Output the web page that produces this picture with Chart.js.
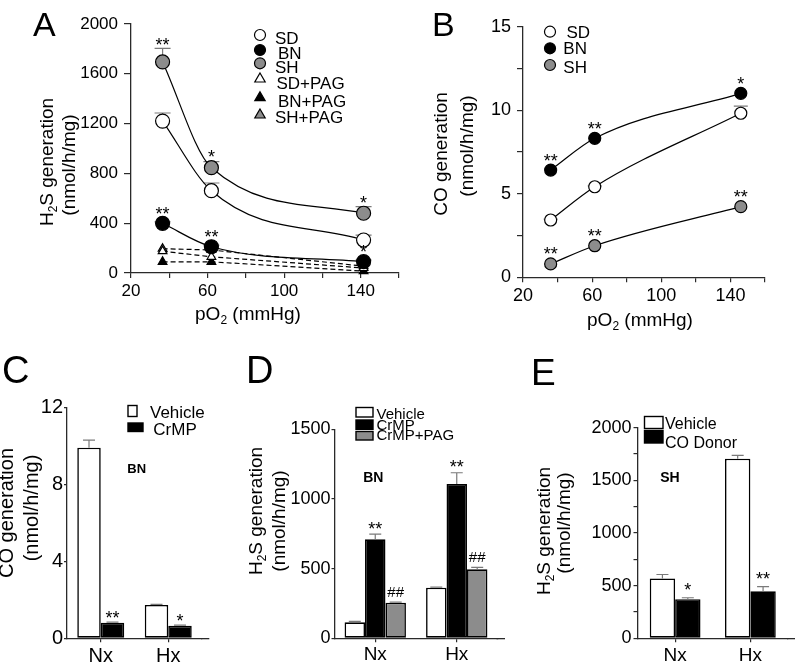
<!DOCTYPE html>
<html><head><meta charset="utf-8">
<script src="https://cdn.jsdelivr.net/npm/chart.js@4.4.1/dist/chart.umd.min.js"></script>
<style>
html,body{margin:0;padding:0;background:#fff;}
#wrap{position:relative;width:796px;height:669px;overflow:hidden;background:#fff;}
canvas{position:absolute;left:0;top:0;}
</style></head><body><div id="wrap"></div>
<script>
const FONT = '"Liberation Sans", Arial, Helvetica, sans-serif';
const AX = '#2a2a2a';
const ERR = '#7a7a7a';
const GRAY = '#8c8c8c';

// ---------- Panel A : H2S generation vs pO2 ----------
const seriesA = ['SD', 'BN', 'SH', 'SD+PAG', 'BN+PAG', 'SH+PAG'];
const pO2A = [36.5, 62, 141.5];
const h2sSD = [1220, 661, 265];
const h2sSDErr = [65, 62, 40];
const h2sBN = [399, 211, 91];
const h2sBNErr = [12, 12, 12];
const h2sSH = [1695, 846, 480];
const h2sSHErr = [110, 48, 53];
const h2sSDPAG = [175, 130, 40];
const h2sBNPAG = [90, 90, 15];
const h2sSHPAG = [195, 185, 55];
const sigA_SH = ['**', '*', '*'];
const sigA_BN = ['**', '**', '*'];
const xTicksA = [20, 60, 100, 140];
const yTicksA = [0, 400, 800, 1200, 1600, 2000];

// ---------- Panel B : CO generation vs pO2 ----------
const seriesB = ['SD', 'BN', 'SH'];
const pO2B = [36, 61.5, 146];
const coSD = [3.43, 5.42, 9.82];
const coSDErr = [0.05, 0.05, 0.43];
const coBN = [6.42, 8.32, 11.01];
const coBNErr = [0.05, 0.05, 0.05];
const coSH = [0.8, 1.89, 4.23];
const coSHErr = [0.05, 0.05, 0.05];
const sigB_BN = ['**', '**', '*'];
const sigB_SH = ['**', '**', '**'];
const xTicksB = [20, 60, 100, 140];
const yTicksB = [0, 5, 10, 15];

// ---------- Bar panels ----------
const groups = ['Nx', 'Hx'];
// C
const coVehicleC = [9.9, 1.73];
const coVehicleCErr = [0.4, 0.03];
const coCrMPC = [0.81, 0.65];
const coCrMPCErr = [0.03, 0.03];
const sigC_CrMP = ['**', '*'];
const yTicksC = [0, 4, 8, 12];
// D
const h2sVehicleD = [115, 363];
const h2sVehicleDErr = [6, 4];
const h2sCrMPD = [710, 1107];
const h2sCrMPDErr = [38, 81];
const h2sPAGD = [255, 495];
const h2sPAGDErr = [4, 14];
const sigD_CrMP = ['**', '**'];
const sigD_PAG = ['##', '##'];
const yTicksD = [0, 500, 1000, 1500];
// E
const h2sVehicleE = [568, 1705];
const h2sVehicleEErr = [38, 32];
const h2sCOE = [371, 446];
const h2sCOEErr = [14, 44];
const sigE_CO = ['*', '**'];
const yTicksE = [0, 500, 1000, 1500, 2000];

Chart.defaults.font.family = FONT;
const wrap = document.getElementById('wrap');
function mk() {
  const c = document.createElement('canvas');
  c.width = 796; c.height = 669; c.style.width = '796px'; c.style.height = '669px';
  wrap.appendChild(c); return c.getContext('2d');
}
function baseOptions(area, yW, xH, scales, extra) {
  return Object.assign({
    responsive: false, animation: false, devicePixelRatio: 1, events: [],
    layout: { padding: { left: area.l - yW, top: area.t, right: 796 - area.r, bottom: 669 - area.b - xH } },
    plugins: { legend: { display: false }, tooltip: { enabled: false } },
    scales
  }, extra || {});
}
function axisCommon(tl) {
  return {
    border: { display: true, color: AX, width: 1.3 },
    grid: { display: true, drawOnChartArea: false, drawTicks: true, tickLength: tl, color: AX, lineWidth: 1.2 }
  };
}
function linAxis(o) {
  return Object.assign(axisCommon(o.tl), {
    type: 'linear', position: o.pos, min: o.min, max: o.max,
    afterFit: s => { if (o.pos === 'left') s.width = o.size; else s.height = o.size; },
    ticks: { stepSize: o.step, autoSkip: false, maxRotation: 0, padding: o.pad, color: '#000',
      font: { family: FONT, size: o.fs },
      callback: v => o.labels.some(l => Math.abs(l - v) < 1e-6) ? String(v) : '' }
  });
}
function catAxis(o) {
  const a = axisCommon(o.tl); a.grid.offset = false;
  return Object.assign(a, {
    type: 'category', position: 'bottom', offset: true,
    afterFit: s => { s.height = o.size; },
    ticks: { padding: o.pad, color: '#000', font: { family: FONT, size: o.fs }, maxRotation: 0, autoSkip: false }
  });
}
function textC(ctx, str, x, yc, font, align) {
  ctx.save();
  ctx.font = font; ctx.textAlign = align || 'center'; ctx.textBaseline = 'alphabetic'; ctx.fillStyle = '#000';
  const m = ctx.measureText(str);
  ctx.fillText(str, x, yc + (m.actualBoundingBoxAscent - m.actualBoundingBoxDescent) / 2);
  ctx.restore();
}
function richLine(ctx, parts, fs) {
  let w = 0;
  const ws = parts.map(p => { ctx.font = `${p[1] ? Math.round(fs * 0.62) : fs}px ${FONT}`; const ww = ctx.measureText(p[0]).width; w += ww; return ww; });
  let x = -w / 2;
  parts.forEach((p, i) => { ctx.font = `${p[1] ? Math.round(fs * 0.62) : fs}px ${FONT}`; ctx.fillText(p[0], x, p[1] ? fs * 0.32 : 0); x += ws[i]; });
}
function title(ctx, parts, fs, cx, cy, vertical) {
  ctx.save(); ctx.translate(cx, cy); if (vertical) ctx.rotate(-Math.PI / 2);
  ctx.textAlign = 'left'; ctx.textBaseline = 'middle'; ctx.fillStyle = '#000';
  richLine(ctx, parts, fs); ctx.restore();
}
function letter(ctx, L, x, baseline, fs) {
  ctx.save(); ctx.font = `${fs}px ${FONT}`; ctx.textAlign = 'left'; ctx.textBaseline = 'alphabetic'; ctx.fillStyle = '#000';
  ctx.fillText(L, x, baseline); ctx.restore();
}
function sym(ctx, style, fill, x, y, r) {
  ctx.save(); ctx.fillStyle = fill; ctx.strokeStyle = '#000'; ctx.lineWidth = 1.2; ctx.beginPath();
  if (style === 'circle') ctx.arc(x, y, r, 0, Math.PI * 2);
  else { ctx.moveTo(x, y - r); ctx.lineTo(x + r * 0.866, y + r / 2); ctx.lineTo(x - r * 0.866, y + r / 2); ctx.closePath(); }
  ctx.fill(); ctx.stroke(); ctx.restore();
}
function lineErr(ctx, chart, xs, ys, errs, cap) {
  const X = chart.scales.x, Y = chart.scales.y;
  ctx.save(); ctx.strokeStyle = ERR; ctx.lineWidth = 1.2;
  xs.forEach((xv, i) => {
    const px = X.getPixelForValue(xv), py = Y.getPixelForValue(ys[i]), pt = Y.getPixelForValue(ys[i] + errs[i]);
    ctx.beginPath(); ctx.moveTo(px, py); ctx.lineTo(px, pt); ctx.moveTo(px - cap, pt); ctx.lineTo(px + cap, pt); ctx.stroke();
  });
  ctx.restore();
}
function lineSig(ctx, chart, xs, ys, errs, sig, r, gap, fs) {
  const X = chart.scales.x, Y = chart.scales.y;
  xs.forEach((xv, i) => {
    if (!sig[i]) return;
    const px = X.getPixelForValue(xv);
    const top = Math.min(Y.getPixelForValue(ys[i] + errs[i]), Y.getPixelForValue(ys[i]) - r);
    textC(ctx, sig[i], px, top - gap, `${fs}px ${FONT}`);
  });
}
function lineDs(label, xs, ys, fill, style, r, dashed) {
  return {
    label, data: xs.map((x, i) => ({ x, y: ys[i] })),
    borderColor: '#000', borderWidth: 1.2, borderDash: dashed ? [5, 3] : [],
    backgroundColor: fill, pointBackgroundColor: fill, pointBorderColor: '#000', pointBorderWidth: 1.2,
    pointRadius: r, pointStyle: style, fill: false, clip: false,
    cubicInterpolationMode: dashed ? 'default' : 'monotone', tension: 0
  };
}
function barDs(label, vals, fill) {
  return { label, data: vals, backgroundColor: fill, borderColor: '#000', borderWidth: 1.6, borderSkipped: false, barPercentage: 1 };
}
function barErr(ctx, chart, di, vals, errs, cap) {
  const meta = chart.getDatasetMeta(di), Y = chart.scales.y;
  ctx.save(); ctx.strokeStyle = ERR; ctx.lineWidth = 1.2;
  meta.data.forEach((bar, i) => {
    const pt = Y.getPixelForValue(vals[i] + errs[i]);
    ctx.beginPath(); ctx.moveTo(bar.x, bar.y); ctx.lineTo(bar.x, pt); ctx.moveTo(bar.x - cap, pt); ctx.lineTo(bar.x + cap, pt); ctx.stroke();
  });
  ctx.restore();
}
function barSig(ctx, chart, di, vals, errs, sig, gap, fs) {
  const meta = chart.getDatasetMeta(di), Y = chart.scales.y;
  meta.data.forEach((bar, i) => {
    if (!sig[i]) return;
    textC(ctx, sig[i], bar.x, Y.getPixelForValue(vals[i] + errs[i]) - gap, `${fs}px ${FONT}`);
  });
}
function extendX(ctx, chart, toX) {
  const a = chart.chartArea;
  const y = Math.round(a.bottom - 0.65) + 0.65;
  ctx.save(); ctx.strokeStyle = AX; ctx.lineWidth = 1.3;
  ctx.beginPath(); ctx.moveTo(a.right - 1, y); ctx.lineTo(toX, y); ctx.stroke(); ctx.restore();
}
function boxLegend(ctx, items) {
  items.forEach(it => {
    ctx.save(); ctx.fillStyle = it.fill; ctx.strokeStyle = '#000'; ctx.lineWidth = 1.4;
    ctx.fillRect(it.bx, it.by, it.bw, it.bh); ctx.strokeRect(it.bx, it.by, it.bw, it.bh); ctx.restore();
    textC(ctx, it.label, it.tx, it.ty, `${it.fs}px ${FONT}`, 'left');
  });
}

const H2S_TITLE = [['H'], ['2', 1], ['S generation']];
const UNIT_TITLE = [['(nmol/h/mg)']];
const PO2_TITLE = [['pO'], ['2', 1], [' (mmHg)']];

// ================= Panel A =================
const areaA = { l: 131, r: 399, t: 24, b: 273 };
new Chart(mk(), {
  type: 'line',
  data: { datasets: [
    lineDs(seriesA[0], pO2A, h2sSD, '#fff', 'circle', 7, false),
    lineDs(seriesA[1], pO2A, h2sBN, '#000', 'circle', 7, false),
    lineDs(seriesA[2], pO2A, h2sSH, GRAY, 'circle', 7, false),
    lineDs(seriesA[3], pO2A, h2sSDPAG, '#fff', 'triangle', 5, true),
    lineDs(seriesA[4], pO2A, h2sBNPAG, '#000', 'triangle', 5, true),
    lineDs(seriesA[5], pO2A, h2sSHPAG, GRAY, 'triangle', 5, true)
  ] },
  options: baseOptions(areaA, 60, 45, {
    x: linAxis({ pos: 'bottom', min: 20, max: 160, step: 20, labels: xTicksA, fs: 17, tl: 5, pad: 3, size: 45 }),
    y: linAxis({ pos: 'left', min: 0, max: 2000, step: 400, labels: yTicksA, fs: 17, tl: 7, pad: 6, size: 60 })
  }),
  plugins: [{
    id: 'decorA',
    beforeDatasetsDraw(chart) {
      const ctx = chart.ctx;
      lineErr(ctx, chart, pO2A, h2sSD, h2sSDErr, 8);
      lineErr(ctx, chart, pO2A, h2sSH, h2sSHErr, 8);
      lineErr(ctx, chart, pO2A, h2sBN, h2sBNErr, 8);
    },
    afterDatasetsDraw(chart) {
      const ctx = chart.ctx;
      lineSig(ctx, chart, pO2A, h2sSH, h2sSHErr, sigA_SH, 7, 7, 18);
      lineSig(ctx, chart, pO2A, h2sBN, h2sBNErr, sigA_BN, 7, 6, 18);
    },
    afterDraw(chart) {
      const ctx = chart.ctx;
      letter(ctx, 'A', 33, 36, 34);
      title(ctx, H2S_TITLE, 19, 47.5, 162, true);
      title(ctx, UNIT_TITLE, 19, 69.5, 165, true);
      title(ctx, PO2_TITLE, 19, 248, 315, false);
      const symY = [35, 50, 63.3, 79, 97.7, 115];
      const txtX = [275, 278, 275, 276.5, 278, 275];
      const txtY = [38.3, 53.3, 67, 83, 100.7, 116.7];
      chart.data.datasets.forEach((ds, i) => {
        sym(ctx, ds.pointStyle, ds.pointBackgroundColor, 260, symY[i], ds.pointStyle === 'circle' ? 5.5 : 6);
        textC(ctx, ds.label, txtX[i], txtY[i], `17px ${FONT}`, 'left');
      });
    }
  }]
});

// ================= Panel B =================
const areaB = { l: 523, r: 765, t: 26.7, b: 277.3 };
new Chart(mk(), {
  type: 'line',
  data: { datasets: [
    lineDs(seriesB[0], pO2B, coSD, '#fff', 'circle', 6, false),
    lineDs(seriesB[1], pO2B, coBN, '#000', 'circle', 6, false),
    lineDs(seriesB[2], pO2B, coSH, GRAY, 'circle', 6, false)
  ] },
  options: baseOptions(areaB, 60, 45, {
    x: linAxis({ pos: 'bottom', min: 20, max: 160, step: 20, labels: xTicksB, fs: 18, tl: 5, pad: 3, size: 45 }),
    y: linAxis({ pos: 'left', min: 0, max: 15, step: 2.5, labels: yTicksB, fs: 18, tl: 6, pad: 6, size: 60 })
  }),
  plugins: [{
    id: 'decorB',
    beforeDatasetsDraw(chart) {
      lineErr(chart.ctx, chart, pO2B, coSD, coSDErr, 7);
    },
    afterDatasetsDraw(chart) {
      const ctx = chart.ctx;
      lineSig(ctx, chart, pO2B, coBN, coBNErr, sigB_BN, 6, 7, 18);
      lineSig(ctx, chart, pO2B, coSH, coSHErr, sigB_SH, 6, 7, 18);
    },
    afterDraw(chart) {
      const ctx = chart.ctx;
      letter(ctx, 'B', 432, 36, 34);
      title(ctx, [['CO generation']], 19, 441.5, 154, true);
      title(ctx, UNIT_TITLE, 19, 467.5, 146, true);
      title(ctx, PO2_TITLE, 19, 640, 321, false);
      const symY = [31.7, 48.3, 65];
      const txtX = [566.5, 563.3, 563.3];
      const txtY = [31.7, 48.3, 66.5];
      chart.data.datasets.forEach((ds, i) => {
        sym(ctx, 'circle', ds.pointBackgroundColor, 550, symY[i], 5.5);
        textC(ctx, ds.label, txtX[i], txtY[i], `17px ${FONT}`, 'left');
      });
    }
  }]
});

// ================= Panel C =================
const areaC = { l: 67, r: 202, t: 407.3, b: 638.3 };
new Chart(mk(), {
  type: 'bar',
  data: { labels: groups, datasets: [
    barDs('Vehicle', coVehicleC, '#fff'),
    barDs('CrMP', coCrMPC, '#000')
  ] },
  options: baseOptions(areaC, 60, 25, {
    x: catAxis({ fs: 20, tl: 4, pad: 2, size: 25 }),
    y: linAxis({ pos: 'left', min: 0, max: 12, step: 4, labels: yTicksC, fs: 20, tl: 3, pad: 1, size: 60 })
  }, { datasets: { bar: { categoryPercentage: 0.696 } } }),
  plugins: [{
    id: 'decorC',
    afterDatasetsDraw(chart) {
      const ctx = chart.ctx;
      barErr(ctx, chart, 0, coVehicleC, coVehicleCErr, 6);
      barErr(ctx, chart, 1, coCrMPC, coCrMPCErr, 6);
      barSig(ctx, chart, 1, coCrMPC, coCrMPCErr, sigC_CrMP, 8, 18);
    },
    afterDraw(chart) {
      const ctx = chart.ctx;
      extendX(ctx, chart, 209.3);
      letter(ctx, 'C', 2, 383, 38);
      title(ctx, [['CO generation']], 20, 7, 513, true);
      title(ctx, UNIT_TITLE, 20, 32, 508, true);
      textC(ctx, 'BN', 136.7, 468.3, `bold 13px ${FONT}`);
      boxLegend(ctx, [
        { label: chart.data.datasets[0].label, fill: '#fff', bx: 128, by: 405.5, bw: 9, bh: 11, tx: 150, ty: 411.7, fs: 17 },
        { label: chart.data.datasets[1].label, fill: '#000', bx: 128, by: 423, bw: 15, bh: 8.5, tx: 153.3, ty: 429.3, fs: 17 }
      ]);
    }
  }]
});

// ================= Panel D =================
const areaD = { l: 334.5, r: 497.5, t: 429.3, b: 638.3 };
new Chart(mk(), {
  type: 'bar',
  data: { labels: groups, datasets: [
    barDs('Vehicle', h2sVehicleD, '#fff'),
    barDs('CrMP', h2sCrMPD, '#000'),
    barDs('CrMP+PAG', h2sPAGD, GRAY)
  ] },
  options: baseOptions(areaD, 60, 25, {
    x: catAxis({ fs: 19, tl: 4, pad: 1.5, size: 25 }),
    y: linAxis({ pos: 'left', min: 0, max: 1500, step: 500, labels: yTicksD, fs: 18, tl: 3, pad: 1, size: 60 })
  }, { datasets: { bar: { categoryPercentage: 0.753 } } }),
  plugins: [{
    id: 'decorD',
    afterDatasetsDraw(chart) {
      const ctx = chart.ctx;
      barErr(ctx, chart, 0, h2sVehicleD, h2sVehicleDErr, 6);
      barErr(ctx, chart, 1, h2sCrMPD, h2sCrMPDErr, 6);
      barErr(ctx, chart, 2, h2sPAGD, h2sPAGDErr, 6);
      barSig(ctx, chart, 1, h2sCrMPD, h2sCrMPDErr, sigD_CrMP, 9, 18);
      barSig(ctx, chart, 2, h2sPAGD, h2sPAGDErr, sigD_PAG, 10, 15);
    },
    afterDraw(chart) {
      const ctx = chart.ctx;
      extendX(ctx, chart, 505);
      letter(ctx, 'D', 246, 383, 38);
      title(ctx, H2S_TITLE, 19, 256.5, 511, true);
      title(ctx, UNIT_TITLE, 19, 279.5, 521, true);
      textC(ctx, 'BN', 373.3, 476.7, `bold 14px ${FONT}`);
      boxLegend(ctx, [
        { label: chart.data.datasets[0].label, fill: '#fff', bx: 356, by: 407.5, bw: 17, bh: 9.5, tx: 376.5, ty: 413.3, fs: 15 },
        { label: chart.data.datasets[1].label, fill: '#000', bx: 356, by: 420, bw: 17, bh: 9.3, tx: 376.5, ty: 425.2, fs: 15 },
        { label: chart.data.datasets[2].label, fill: GRAY, bx: 356, by: 431.5, bw: 17, bh: 8.5, tx: 376.5, ty: 435, fs: 15 }
      ]);
    }
  }]
});

// ================= Panel E =================
const areaE = { l: 637.5, r: 788, t: 427.7, b: 638.3 };
new Chart(mk(), {
  type: 'bar',
  data: { labels: groups, datasets: [
    barDs('Vehicle', h2sVehicleE, '#fff'),
    barDs('CO Donor', h2sCOE, '#000')
  ] },
  options: baseOptions(areaE, 60, 25, {
    x: catAxis({ fs: 19, tl: 4, pad: 2, size: 25 }),
    y: linAxis({ pos: 'left', min: 0, max: 2000, step: 250, labels: yTicksE, fs: 18, tl: 4, pad: 2, size: 60 })
  }, { datasets: { bar: { categoryPercentage: 0.675 } } }),
  plugins: [{
    id: 'decorE',
    afterDatasetsDraw(chart) {
      const ctx = chart.ctx;
      barErr(ctx, chart, 0, h2sVehicleE, h2sVehicleEErr, 6);
      barErr(ctx, chart, 1, h2sCOE, h2sCOEErr, 6);
      barSig(ctx, chart, 1, h2sCOE, h2sCOEErr, sigE_CO, 11.5, 18);
    },
    afterDraw(chart) {
      const ctx = chart.ctx;
      extendX(ctx, chart, 795);
      letter(ctx, 'E', 531, 385, 37);
      title(ctx, H2S_TITLE, 19, 544.5, 531, true);
      title(ctx, UNIT_TITLE, 19, 565, 523, true);
      textC(ctx, 'SH', 670, 476.7, `bold 14px ${FONT}`);
      boxLegend(ctx, [
        { label: chart.data.datasets[0].label, fill: '#fff', bx: 644.5, by: 416.5, bw: 18.5, bh: 12, tx: 665, ty: 423.3, fs: 16 },
        { label: chart.data.datasets[1].label, fill: '#000', bx: 644.5, by: 430.5, bw: 18.5, bh: 12.5, tx: 665, ty: 441.7, fs: 16 }
      ]);
    }
  }]
});
</script>
</body></html>
